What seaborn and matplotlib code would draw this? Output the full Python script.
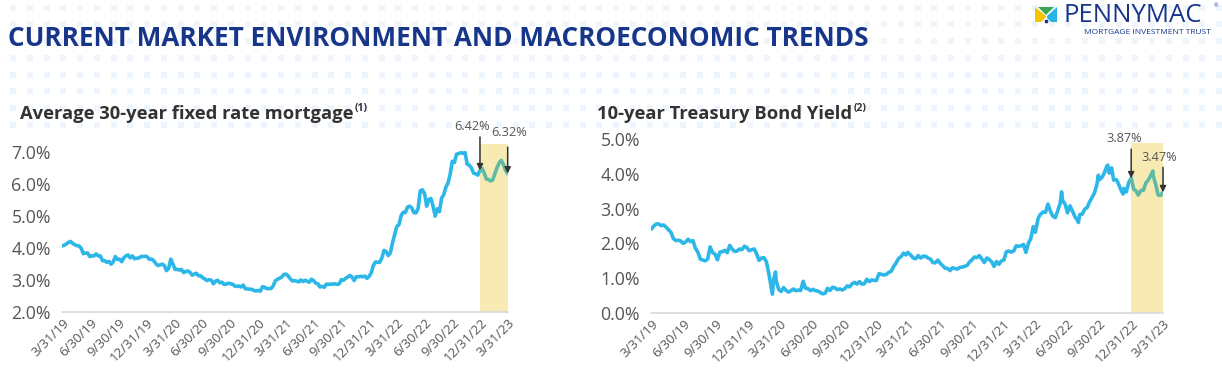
import numpy as np
import pandas as pd
import matplotlib
matplotlib.use("Agg")
import matplotlib.pyplot as plt
from matplotlib.patches import Polygon
import seaborn as sns

# ---------------- DATA ----------------
title = "CURRENT MARKET ENVIRONMENT AND MACROECONOMIC TRENDS"
left_title = "Average 30-year fixed rate mortgage"
left_note = "(1)"
right_title = "10-year Treasury Bond Yield"
right_note = "(2)"

tick_labels = ["3/31/19", "6/30/19", "9/30/19", "12/31/19", "3/31/20", "6/30/20",
               "9/30/20", "12/31/20", "3/31/21", "6/30/21", "9/30/21", "12/31/21",
               "3/31/22", "6/30/22", "9/30/22", "12/31/22", "3/31/23"]

# Weekly 30-year fixed mortgage rate (%), Thursdays from 3/28/19
mortgage_2019 = [4.06, 4.08, 4.12, 4.17, 4.20, 4.14, 4.10, 4.07, 4.06, 3.99,
                 3.82, 3.84, 3.84, 3.73, 3.75, 3.75, 3.81, 3.75, 3.75, 3.60,
                 3.60, 3.55, 3.58, 3.49, 3.56, 3.73, 3.64, 3.65, 3.57, 3.69,
                 3.75, 3.78, 3.69, 3.75, 3.66, 3.68, 3.68, 3.73, 3.73, 3.74]
mortgage_2020 = [3.72, 3.64, 3.65, 3.60, 3.51, 3.45, 3.47, 3.49, 3.45, 3.29,
                 3.36, 3.65, 3.50, 3.33, 3.33, 3.31, 3.33, 3.23, 3.26, 3.28,
                 3.24, 3.15, 3.18, 3.21, 3.13, 3.13, 3.07, 3.03, 2.98, 3.01,
                 2.99, 2.88, 2.96, 2.99, 2.91, 2.93, 2.86, 2.87, 2.90, 2.88,
                 2.87, 2.81, 2.80, 2.81, 2.78, 2.84, 2.72, 2.72, 2.71, 2.71,
                 2.67, 2.66, 2.67]
mortgage_2021 = [2.65, 2.79, 2.77, 2.73, 2.73, 2.73, 2.81, 2.97, 3.02, 3.05,
                 3.09, 3.17, 3.18, 3.13, 3.04, 2.97, 2.98, 2.96, 2.94, 3.00,
                 2.95, 2.99, 2.96, 2.93, 3.02, 2.98, 2.90, 2.88, 2.78, 2.80,
                 2.77, 2.87, 2.86, 2.87, 2.87, 2.88, 2.86, 2.88, 3.01, 2.99,
                 3.05, 3.09, 3.14, 3.09, 2.98, 3.10, 3.10, 3.11, 3.10, 3.12,
                 3.05, 3.11]
mortgage_2022 = [3.22, 3.45, 3.56, 3.55, 3.55, 3.69, 3.92, 3.89, 3.76, 3.85,
                 4.16, 4.42, 4.67, 4.72, 5.00, 5.11, 5.10, 5.27, 5.30, 5.25,
                 5.10, 5.09, 5.23, 5.78, 5.81, 5.70, 5.30, 5.51, 5.54, 5.30,
                 4.99, 5.22, 5.13, 5.55, 5.66, 5.89, 6.02, 6.29, 6.70, 6.66,
                 6.92, 6.94, 6.97, 6.95, 6.97, 6.61, 6.58, 6.49, 6.33, 6.31,
                 6.27, 6.42]
mortgage_2023 = [6.48, 6.33, 6.15, 6.13, 6.09, 6.12, 6.32, 6.50, 6.65, 6.73,
                 6.60, 6.42, 6.32]
mortgage_start = "2019-03-28"

# 10-year Treasury yield (%)
tsy_dates = [
    "2019-03-29", "2019-04-05", "2019-04-12", "2019-04-19", "2019-04-26", "2019-05-03",
    "2019-05-10", "2019-05-17", "2019-05-24", "2019-05-31", "2019-06-07", "2019-06-14",
    "2019-06-21", "2019-06-28", "2019-07-05", "2019-07-12", "2019-07-19", "2019-07-26",
    "2019-08-02", "2019-08-09", "2019-08-16", "2019-08-23", "2019-08-30", "2019-09-06",
    "2019-09-13", "2019-09-20", "2019-09-27", "2019-10-04", "2019-10-11", "2019-10-18",
    "2019-10-25", "2019-11-01", "2019-11-08", "2019-11-15", "2019-11-22", "2019-11-29",
    "2019-12-06", "2019-12-13", "2019-12-20", "2019-12-27",
    "2020-01-03", "2020-01-10", "2020-01-17", "2020-01-24", "2020-01-31", "2020-02-07",
    "2020-02-14", "2020-02-21", "2020-02-28", "2020-03-06", "2020-03-09", "2020-03-13",
    "2020-03-18", "2020-03-20", "2020-03-27", "2020-04-03", "2020-04-10", "2020-04-17",
    "2020-04-24", "2020-05-01", "2020-05-08", "2020-05-15", "2020-05-22", "2020-05-29",
    "2020-06-05", "2020-06-12", "2020-06-19", "2020-06-26", "2020-07-03", "2020-07-10",
    "2020-07-17", "2020-07-24", "2020-07-31", "2020-08-07", "2020-08-14", "2020-08-21",
    "2020-08-28", "2020-09-04", "2020-09-11", "2020-09-18", "2020-09-25", "2020-10-02",
    "2020-10-09", "2020-10-16", "2020-10-23", "2020-10-30", "2020-11-06", "2020-11-13",
    "2020-11-20", "2020-11-27", "2020-12-04", "2020-12-11", "2020-12-18", "2020-12-24",
    "2020-12-31",
    "2021-01-08", "2021-01-15", "2021-01-22", "2021-01-29", "2021-02-05", "2021-02-12",
    "2021-02-19", "2021-02-26", "2021-03-05", "2021-03-12", "2021-03-19", "2021-03-26",
    "2021-03-31", "2021-04-09", "2021-04-16", "2021-04-23", "2021-04-30", "2021-05-07",
    "2021-05-14", "2021-05-21", "2021-05-28", "2021-06-04", "2021-06-11", "2021-06-18",
    "2021-06-25", "2021-07-02", "2021-07-09", "2021-07-16", "2021-07-23", "2021-07-30",
    "2021-08-06", "2021-08-13", "2021-08-20", "2021-08-27", "2021-09-03", "2021-09-10",
    "2021-09-17", "2021-09-24", "2021-09-30", "2021-10-08", "2021-10-15", "2021-10-22",
    "2021-10-29", "2021-11-05", "2021-11-12", "2021-11-19", "2021-11-26", "2021-12-03",
    "2021-12-10", "2021-12-17", "2021-12-24", "2021-12-31",
    "2022-01-07", "2022-01-14", "2022-01-21", "2022-01-28", "2022-02-04", "2022-02-11",
    "2022-02-18", "2022-02-25", "2022-03-04", "2022-03-11", "2022-03-18", "2022-03-25",
    "2022-03-31", "2022-04-08", "2022-04-14", "2022-04-22", "2022-04-29", "2022-05-06",
    "2022-05-13", "2022-05-20", "2022-05-27", "2022-06-03", "2022-06-10", "2022-06-14",
    "2022-06-17", "2022-06-24", "2022-07-01", "2022-07-08", "2022-07-15", "2022-07-22",
    "2022-07-29", "2022-08-01", "2022-08-05", "2022-08-12", "2022-08-19", "2022-08-26",
    "2022-09-02", "2022-09-09", "2022-09-16", "2022-09-23", "2022-09-27", "2022-09-30",
    "2022-10-07", "2022-10-14", "2022-10-21", "2022-10-24", "2022-10-28", "2022-11-04",
    "2022-11-10", "2022-11-18", "2022-11-25", "2022-12-02", "2022-12-07", "2022-12-09",
    "2022-12-16", "2022-12-23", "2022-12-30",
    "2023-01-06", "2023-01-13", "2023-01-19", "2023-01-27", "2023-02-03", "2023-02-10",
    "2023-02-17", "2023-02-24", "2023-03-02", "2023-03-03", "2023-03-10", "2023-03-17",
    "2023-03-24", "2023-03-31"]
tsy_values = [
    2.41, 2.50, 2.56, 2.56, 2.51, 2.53, 2.47, 2.39, 2.32, 2.14, 2.08, 2.09,
    2.07, 2.00, 2.04, 2.12, 2.05, 2.08, 1.86, 1.75, 1.55, 1.52, 1.50, 1.55,
    1.90, 1.74, 1.69, 1.53, 1.75, 1.76, 1.80, 1.73, 1.94, 1.84, 1.77, 1.78,
    1.84, 1.82, 1.92, 1.88,
    1.79, 1.82, 1.84, 1.70, 1.51, 1.58, 1.59, 1.47, 1.13, 0.71, 0.54, 0.98,
    1.18, 0.92, 0.68, 0.62, 0.73, 0.65, 0.60, 0.64, 0.69, 0.64, 0.66, 0.65,
    0.91, 0.71, 0.70, 0.64, 0.68, 0.64, 0.63, 0.59, 0.55, 0.57, 0.71, 0.65,
    0.74, 0.72, 0.67, 0.69, 0.66, 0.70, 0.78, 0.75, 0.84, 0.88, 0.83, 0.90,
    0.83, 0.84, 0.97, 0.90, 0.95, 0.94, 0.93,
    1.13, 1.11, 1.09, 1.11, 1.17, 1.20, 1.34, 1.44, 1.57, 1.62, 1.72, 1.67,
    1.74, 1.66, 1.58, 1.56, 1.65, 1.58, 1.63, 1.63, 1.58, 1.55, 1.45, 1.44,
    1.52, 1.43, 1.36, 1.29, 1.28, 1.22, 1.30, 1.28, 1.26, 1.31, 1.32, 1.34,
    1.37, 1.47, 1.52, 1.61, 1.59, 1.65, 1.55, 1.45, 1.58, 1.54, 1.47, 1.34,
    1.48, 1.40, 1.50, 1.52,
    1.76, 1.78, 1.75, 1.78, 1.93, 1.92, 1.93, 1.97, 1.74, 2.00, 2.14, 2.48,
    2.32, 2.72, 2.83, 2.90, 2.89, 3.13, 2.93, 2.78, 2.74, 2.94, 3.15, 3.48,
    3.23, 3.13, 2.88, 3.08, 2.93, 2.77, 2.67, 2.60, 2.83, 2.84, 2.98, 3.03,
    3.19, 3.32, 3.45, 3.69, 3.96, 3.83, 3.89, 4.02, 4.21, 4.25, 4.02, 4.17,
    3.82, 3.83, 3.68, 3.51, 3.42, 3.58, 3.48, 3.75, 3.88,
    3.56, 3.51, 3.39, 3.52, 3.53, 3.74, 3.82, 3.95, 4.08, 3.95, 3.70, 3.39,
    3.38, 3.48]

left_shade = ("2022-12-29", "2023-03-31")
right_shade = ("2022-12-30", "2023-03-31")
left_callouts = [("2022-12-29", 6.42, "6.42%"), ("2023-03-30", 6.32, "6.32%")]
right_callouts = [("2022-12-30", 3.87, "3.87%"), ("2023-03-31", 3.47, "3.47%")]

# ---------------- STYLE ----------------
sns.set_theme(style="white")
plt.rcParams["font.family"] = ["Open Sans", "DejaVu Sans"]

BLUE = "#2db7e8"
GREEN = "#5dbaa4"
SHADE = "#f8eab3"
NAVY = "#17368a"
GRAY = "#555555"
DARK = "#333333"

W, H = 1222, 368
fig = plt.figure(figsize=(W / 100, H / 100), dpi=100)
fig.patch.set_facecolor("white")

# background decoration axes (pixel coords)
bg = fig.add_axes([0, 0, 1, 1], zorder=-5)
bg.set_xlim(0, W)
bg.set_ylim(H, 0)
bg.axis("off")
gx, gy = np.meshgrid(np.arange(13, W, 16.75), np.arange(7.5, 128, 16.75))
bg.scatter(gx.ravel(), gy.ravel(), marker="s", s=14, color="#eff5fc", linewidths=0)

fig.text(8 / W, 1 - 38 / H, title, fontsize=18.8, fontweight="bold", color=NAVY,
         va="center", ha="left")

# logo
bg.add_patch(Polygon([(1035, 7), (1046, 16), (1046, 22), (1035, 22)], closed=True,
                     color="#f5c400", lw=0))
bg.add_patch(Polygon([(1038, 7), (1054, 7), (1046, 15)], closed=True, color="#3aa651", lw=0))
bg.add_patch(Polygon([(1057, 7), (1057, 22), (1047, 22), (1047, 16)], closed=True,
                     color="#29b4e8", lw=0))
bg.add_patch(Polygon([(1041, 22), (1046, 17), (1051, 22)], closed=True, color="white", lw=0))
bg.scatter([1046], [20.5], s=3, color=NAVY)
fig.text(1063 / W, 1 - 22.5 / H, "PENNYMAC", fontsize=18.5, color=NAVY, va="baseline",
         ha="left")
fig.text(1214 / W, 1 - 6 / H, "®", fontsize=4, color=NAVY, va="center", ha="left")
fig.text(1147 / W, 1 - 34.5 / H, "MORTGAGE INVESTMENT TRUST", fontsize=6.0, color=NAVY,
         va="baseline", ha="center")


def make_df(dates, values, shade_start):
    d = pd.DataFrame({"date": pd.to_datetime(dates), "rate": values})
    s = pd.Timestamp(shade_start)
    before = d[d["date"] <= s].assign(period="history")
    after = d[d["date"] >= s].assign(period="recent")
    return pd.concat([before, after], ignore_index=True)


def style_axis(ax, ylim, yticks, shade, shade_top):
    ax.set_facecolor("none")
    ax.axvspan(pd.Timestamp(shade[0]), pd.Timestamp(shade[1]),
               ymin=0, ymax=(shade_top - ylim[0]) / (ylim[1] - ylim[0]),
               color=SHADE, lw=0, zorder=0)
    ax.set_ylim(*ylim)
    ax.set_yticks(yticks)
    ax.set_yticklabels([f"{v:.1f}%" for v in yticks], fontsize=12.8, color=GRAY)
    tick_dates = pd.to_datetime(tick_labels, format="%m/%d/%y")
    ax.set_xticks(tick_dates)
    ax.set_xticklabels(tick_labels, rotation=45, ha="right", rotation_mode="anchor",
                       fontsize=9.5, color=GRAY)
    ax.set_xlim(pd.Timestamp("2019-03-28"), pd.Timestamp("2023-03-31"))
    ax.tick_params(axis="both", length=0, pad=3)
    ax.tick_params(axis="y", pad=8)
    for sp in ["left", "right", "top"]:
        ax.spines[sp].set_visible(False)
    ax.spines["bottom"].set_color("#d9d9d9")
    ax.spines["bottom"].set_linewidth(1.2)
    ax.grid(False)


def callouts(ax, items, offsets):
    for (d, v, txt), (dx_text, dy_text, dy_tail) in zip(items, offsets):
        ax.annotate(txt, xy=(pd.Timestamp(d), v), xytext=(dx_text, dy_text),
                    textcoords="offset points", ha="center", va="bottom",
                    fontsize=9.2, color=GRAY, zorder=6)
        ax.annotate("", xy=(pd.Timestamp(d), v), xytext=(0, dy_tail),
                    textcoords="offset points",
                    arrowprops=dict(arrowstyle="-|>", color=DARK, lw=1.1,
                                    mutation_scale=9, shrinkA=0, shrinkB=0), zorder=6)


def subtitle(x_px, y_px, text, note):
    t = fig.text(x_px / W, 1 - y_px / H, text, fontsize=13.2, fontweight="bold",
                 color=DARK, va="center", ha="left")
    fig.canvas.draw()
    bb = t.get_window_extent()
    fig.text(bb.x1 / W + 1 / W, 1 - (y_px - 5) / H, note, fontsize=7.5,
             fontweight="bold", color=DARK, va="center", ha="left")


# ---------------- LEFT CHART ----------------
axL = fig.add_axes([62 / W, 1 - 312 / H, 446 / W, 168 / H])
mort = mortgage_2019 + mortgage_2020 + mortgage_2021 + mortgage_2022 + mortgage_2023
dates_m = pd.date_range(mortgage_start, periods=len(mort), freq="7D")
dfL = make_df(dates_m, mort, left_shade[0])
style_axis(axL, (2.0, 7.24), [2.0, 3.0, 4.0, 5.0, 6.0, 7.0], left_shade, 7.24)
sns.lineplot(data=dfL, x="date", y="rate", hue="period",
             palette={"history": BLUE, "recent": GREEN}, linewidth=2.6,
             legend=False, ax=axL, zorder=3, estimator=None)
axL.set_xlabel("")
axL.set_ylabel("")
callouts(axL, left_callouts, [(-6, 27, 24), (1, 25, 19)])
subtitle(20, 114, left_title, left_note)

# ---------------- RIGHT CHART ----------------
axR = fig.add_axes([651 / W, 1 - 313 / H, 512 / W, 174 / H])
dfR = make_df(tsy_dates, tsy_values, right_shade[0])
style_axis(axR, (0.0, 5.0), [0.0, 1.0, 2.0, 3.0, 4.0, 5.0], right_shade, 4.88)
sns.lineplot(data=dfR, x="date", y="rate", hue="period",
             palette={"history": BLUE, "recent": GREEN}, linewidth=2.6,
             legend=False, ax=axR, zorder=3, estimator=None)
axR.set_xlabel("")
axR.set_ylabel("")
callouts(axR, right_callouts, [(-5, 24, 21), (-3, 20, 18)])
subtitle(597, 114, right_title, right_note)

fig.savefig("out.png", dpi=100, facecolor="white")
